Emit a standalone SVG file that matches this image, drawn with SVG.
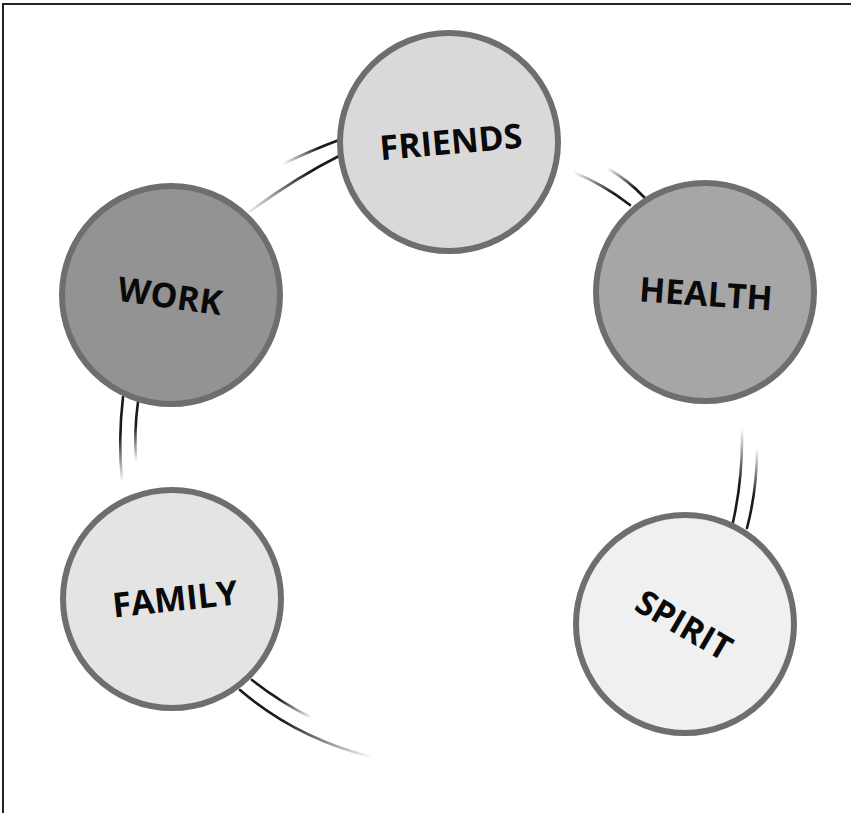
<svg xmlns="http://www.w3.org/2000/svg" width="851" height="813" viewBox="0 0 851 813">
  <style>
    .ring { stroke: #6e6e6e; stroke-width: 6; }
    .label { font-family: "Open Sans", "Noto Sans", "Liberation Sans", sans-serif; font-weight: 700; font-size: 34px; fill: #0a0a0a; text-anchor: middle; }
    .link { fill: none; stroke-width: 2.6; stroke-linecap: round; }
  </style>
  <defs>
    <linearGradient id="g1a" gradientUnits="userSpaceOnUse" x1="339" y1="140" x2="283" y2="164"><stop offset="0" stop-color="#1a1a1a"/><stop offset="0.35" stop-color="#1a1a1a"/><stop offset="1" stop-color="#1a1a1a" stop-opacity="0"/></linearGradient>
    <linearGradient id="g1b" gradientUnits="userSpaceOnUse" x1="339" y1="156" x2="245" y2="215"><stop offset="0" stop-color="#1a1a1a"/><stop offset="0.3" stop-color="#1a1a1a"/><stop offset="1" stop-color="#1a1a1a" stop-opacity="0"/></linearGradient>
    <linearGradient id="g2a" gradientUnits="userSpaceOnUse" x1="630" y1="205" x2="573" y2="172"><stop offset="0" stop-color="#1a1a1a"/><stop offset="0.3" stop-color="#1a1a1a"/><stop offset="1" stop-color="#1a1a1a" stop-opacity="0"/></linearGradient>
    <linearGradient id="g2b" gradientUnits="userSpaceOnUse" x1="645" y1="198" x2="607" y2="168"><stop offset="0" stop-color="#1a1a1a"/><stop offset="0.3" stop-color="#1a1a1a"/><stop offset="1" stop-color="#1a1a1a" stop-opacity="0"/></linearGradient>
    <linearGradient id="g3a" gradientUnits="userSpaceOnUse" x1="733" y1="522" x2="742" y2="428"><stop offset="0" stop-color="#1a1a1a"/><stop offset="0.4" stop-color="#1a1a1a"/><stop offset="1" stop-color="#1a1a1a" stop-opacity="0"/></linearGradient>
    <linearGradient id="g3b" gradientUnits="userSpaceOnUse" x1="747" y1="528" x2="757" y2="448"><stop offset="0" stop-color="#1a1a1a"/><stop offset="0.4" stop-color="#1a1a1a"/><stop offset="1" stop-color="#1a1a1a" stop-opacity="0"/></linearGradient>
    <linearGradient id="g4a" gradientUnits="userSpaceOnUse" x1="123" y1="397" x2="122" y2="482"><stop offset="0" stop-color="#1a1a1a"/><stop offset="0.45" stop-color="#1a1a1a"/><stop offset="1" stop-color="#1a1a1a" stop-opacity="0"/></linearGradient>
    <linearGradient id="g4b" gradientUnits="userSpaceOnUse" x1="138" y1="402" x2="136" y2="462"><stop offset="0" stop-color="#1a1a1a"/><stop offset="0.4" stop-color="#1a1a1a"/><stop offset="1" stop-color="#1a1a1a" stop-opacity="0"/></linearGradient>
    <linearGradient id="g5a" gradientUnits="userSpaceOnUse" x1="252" y1="680" x2="312" y2="718"><stop offset="0" stop-color="#1a1a1a"/><stop offset="0.45" stop-color="#1a1a1a"/><stop offset="1" stop-color="#1a1a1a" stop-opacity="0"/></linearGradient>
    <linearGradient id="g5b" gradientUnits="userSpaceOnUse" x1="240" y1="690" x2="372" y2="757"><stop offset="0" stop-color="#1a1a1a"/><stop offset="0.35" stop-color="#1a1a1a"/><stop offset="1" stop-color="#1a1a1a" stop-opacity="0"/></linearGradient>
  </defs>

  <rect x="0" y="0" width="851" height="813" fill="#ffffff"/>
  <!-- frame: only the top and left edges fall inside the canvas -->
  <rect x="3" y="4" width="900" height="900" fill="none" stroke="#222222" stroke-width="2"/>

  <g id="connectors">
    <path class="link" stroke="url(#g1a)" d="M339,140 Q312,150 283,164"/>
    <path class="link" stroke="url(#g1b)" d="M339,156 Q295,178 245,215"/>
    <path class="link" stroke="url(#g2a)" d="M630,205 Q603,184 573,172"/>
    <path class="link" stroke="url(#g2b)" d="M645,198 Q628,180 607,168"/>
    <path class="link" stroke="url(#g3a)" d="M733,522 Q743,478 742,428"/>
    <path class="link" stroke="url(#g3b)" d="M747,528 Q757,490 757,448"/>
    <path class="link" stroke="url(#g4a)" d="M123,397 Q118,440 122,482"/>
    <path class="link" stroke="url(#g4b)" d="M138,402 Q134,430 136,462"/>
    <path class="link" stroke="url(#g5a)" d="M252,680 Q280,702 312,718"/>
    <path class="link" stroke="url(#g5b)" d="M240,690 Q296,738 372,757"/>
  </g>

  <g id="friends">
    <circle class="ring" cx="449" cy="142" r="109" fill="#d9d9d9"/>
    <text class="label" transform="translate(451,142) rotate(-5)" y="12">FRIENDS</text>
  </g>
  <g id="health">
    <circle class="ring" cx="705" cy="292" r="109" fill="#a6a6a6"/>
    <text class="label" transform="translate(706,294) rotate(4)" y="12">HEALTH</text>
  </g>
  <g id="spirit">
    <circle class="ring" cx="685" cy="624" r="109" fill="#eff0ef"/>
    <text class="label" transform="translate(684,625) rotate(30)" y="12">SPIRIT</text>
  </g>
  <g id="family">
    <circle class="ring" cx="172" cy="599" r="109" fill="#e3e4e3"/>
    <text class="label" transform="translate(175,599) rotate(-6)" y="12">FAMILY</text>
  </g>
  <g id="work">
    <circle class="ring" cx="171" cy="295" r="109" fill="#939393"/>
    <text class="label" transform="translate(170,296) rotate(8)" y="12">WORK</text>
  </g>
</svg>
